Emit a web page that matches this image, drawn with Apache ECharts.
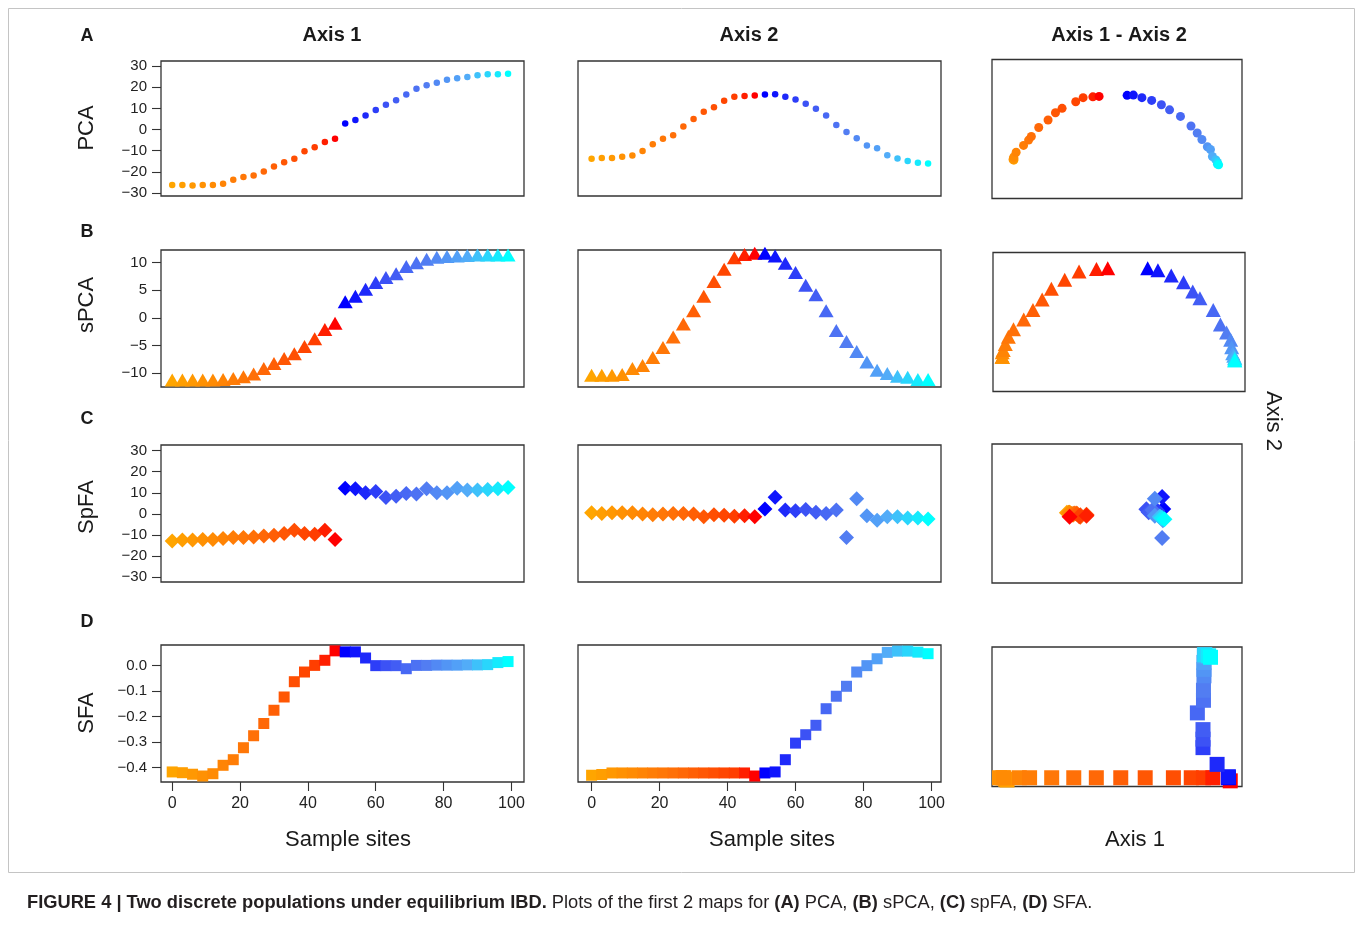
<!DOCTYPE html>
<html>
<head>
<meta charset="utf-8">
<title>Figure 4</title>
<script src="https://cdn.jsdelivr.net/npm/echarts@6.0.0/dist/echarts.min.js"></script>
<style>
html, body { margin: 0; padding: 0; background: #fff; }
#main { width: 1361px; height: 930px; }
</style>
</head>
<body>
<div id="main"></div>
<script>
// sample sites (34 demes, two populations of 17)
var sites = [0, 3, 6, 9, 12, 15, 18, 21, 24, 27, 30, 33, 36, 39, 42, 45, 48,
             51, 54, 57, 60, 63, 66, 69, 72, 75, 78, 81, 84, 87, 90, 93, 96, 99];

// PCA
var pcaAxis1 = [-26.2, -26.2, -26.4, -26.2, -26.2, -25.6, -23.7, -22.4, -21.7, -19.8, -17.4, -15.5, -13.8, -10.3, -8.4, -5.9, -4.3,
                2.9, 4.5, 6.7, 9.2, 11.7, 13.8, 16.6, 19.3, 20.9, 22.1, 23.5, 24.3, 24.8, 25.7, 26.1, 26.1, 26.4];
var pcaAxis2 = [-13.8, -13.5, -13.5, -12.9, -12.3, -10.1, -6.9, -4.4, -2.7, 1.5, 5.0, 8.4, 10.5, 13.6, 15.5, 15.9, 16.1,
                16.6, 16.7, 15.5, 14.2, 12.2, 9.8, 6.7, 2.2, -1.1, -4.1, -7.5, -8.8, -12.1, -13.7, -14.9, -15.7, -16.0];
// sPCA
var spcaAxis1 = [-11.3, -11.3, -11.3, -11.3, -11.3, -11.2, -11.0, -10.7, -10.2, -9.2, -8.3, -7.4, -6.5, -5.2, -3.8, -2.1, -1.0,
                 2.9, 3.9, 5.2, 6.4, 7.3, 8.0, 9.3, 10.0, 10.6, 11.0, 11.1, 11.2, 11.3, 11.4, 11.4, 11.4, 11.4];
var spcaAxis2 = [-10.4, -10.4, -10.4, -10.3, -9.2, -8.65, -7.2, -5.4, -3.5, -1.1, 1.3, 3.9, 6.6, 8.8, 10.9, 11.5, 11.7,
                 11.7, 11.2, 9.9, 8.2, 5.9, 4.2, 1.3, -2.3, -4.3, -6.1, -8.0, -9.5, -10.1, -10.6, -10.8, -11.2, -11.2];
// SpFA
var spfaAxis1 = [-12.9, -12.5, -12.5, -12.2, -12.2, -11.7, -11.3, -11.3, -11.0, -10.5, -10.2, -9.4, -7.8, -9.4, -9.7, -7.8, -12.2,
                 12.2, 11.9, 10.0, 10.6, 7.8, 8.4, 9.7, 9.4, 11.9, 10.0, 10.0, 12.1, 11.3, 11.3, 11.6, 11.9, 12.5];
var spfaAxis2 = [0.5, 0.2, 0.5, 0.5, 0.5, -0.1, -0.4, -0.1, 0.2, 0.2, -0.1, -1.4, -0.4, -0.7, -1.1, -0.9, -1.4,
                 2.3, 7.9, 1.8, 1.5, 2.1, 0.7, 0.2, 1.8, -11.3, 7.1, -0.9, -3.0, -1.4, -1.4, -2.0, -2.0, -2.5];
// SFA
var sfaAxis1 = [-0.417, -0.420, -0.426, -0.433, -0.424, -0.391, -0.369, -0.322, -0.275, -0.227, -0.175, -0.123, -0.063, -0.025, 0.001, 0.021, 0.058,
                0.054, 0.054, 0.030, 0.000, 0.000, 0.000, -0.012, 0.001, 0.001, 0.002, 0.002, 0.002, 0.003, 0.003, 0.004, 0.012, 0.016];
var sfaAxis2 = [-0.430, -0.427, -0.421, -0.421, -0.421, -0.421, -0.421, -0.421, -0.421, -0.421, -0.421, -0.421, -0.421, -0.421, -0.421, -0.421, -0.433,
                -0.421, -0.417, -0.369, -0.304, -0.271, -0.234, -0.169, -0.120, -0.081, -0.025, 0.000, 0.027, 0.052, 0.057, 0.057, 0.053, 0.047];

// tick labels
var xTicks = [0, 20, 40, 60, 80, 100];
var pcaTicks = [-30, -20, -10, 0, 10, 20, 30];
var spcaTicks = [-10, -5, 0, 5, 10];
var spfaTicks = [-30, -20, -10, 0, 10, 20, 30];
var sfaTicks = [-0.4, -0.3, -0.2, -0.1, 0.0];

var FONT = '"Liberation Sans", Arial, Helvetica, sans-serif';
var chart = echarts.init(document.getElementById('main'));

// colour by site: orange -> red (pop 1), blue -> cyan (pop 2)
var warmStops = [[0, [255, 165, 0]], [0.5, [255, 112, 8]], [0.875, [255, 62, 0]], [1, [255, 0, 0]]];
var coldStops = [[0, [0, 0, 255]], [0.25, [60, 82, 245]], [0.5, [82, 125, 242]], [0.75, [82, 172, 248]], [1, [0, 255, 255]]];
function ramp(stops, t) {
    for (var i = 1; i < stops.length; i++) {
        if (t <= stops[i][0]) {
            var a = stops[i - 1], b = stops[i];
            var f = (t - a[0]) / (b[0] - a[0]);
            var c = a[1].map(function (v, j) { return Math.round(v + (b[1][j] - v) * f); });
            return 'rgb(' + c.join(',') + ')';
        }
    }
    return 'rgb(' + stops[stops.length - 1][1].join(',') + ')';
}
var half = 17;
function siteColor(idx) {
    if (idx < half) return ramp(warmStops, idx / (half - 1));
    return ramp(coldStops, (idx - half) / (sites.length - half - 1));
}

function minusFmt(v) { return String(v).replace('-', '\u2212'); }
function sfaFmt(v) { return v.toFixed(1).replace('-', '\u2212'); }

var grids = [], xAxes = [], yAxes = [], series = [];

function tickAxis(ticks, fmt, margin, size) {
    return {
        show: true,
        axisLine: {show: false, onZero: false},
        splitLine: {show: false},
        axisTick: {show: true, inside: false, length: 9, customValues: ticks, lineStyle: {color: '#333', width: 1.1}},
        axisLabel: {show: true, customValues: ticks, formatter: fmt, margin: margin,
                    color: '#222', fontSize: size, fontFamily: FONT}
    };
}

function addPanel(box, xr, yr, data, symbol, size, xt, yt) {
    var k = grids.length;
    grids.push({left: box[0], top: box[1], width: box[2], height: box[3], show: true,
                borderColor: '#333', borderWidth: 1.3, backgroundColor: 'transparent'});
    var xa = xt ? tickAxis(xt, minusFmt, 14, 16) : {show: false, axisLine: {onZero: false}};
    xa.gridIndex = k; xa.type = 'value'; xa.min = xr[0]; xa.max = xr[1];
    var ya = yt ? tickAxis(yt.ticks, yt.fmt, 14, 15) : {show: false, axisLine: {onZero: false}};
    ya.gridIndex = k; ya.type = 'value'; ya.min = yr[0]; ya.max = yr[1];
    xAxes.push(xa);
    yAxes.push(ya);
    series.push({
        type: 'scatter', xAxisIndex: k, yAxisIndex: k, data: data,
        symbol: symbol, symbolSize: size, clip: true,
        itemStyle: {opacity: 1, color: function (p) { return siteColor(p.dataIndex); }},
        emphasis: {disabled: true}
    });
}

function bySite(vals) { return sites.map(function (s, i) { return [s, vals[i]]; }); }
function pairs(a, b) { return a.map(function (v, i) { return [v, b[i]]; }); }

var col1 = {left: 161, width: 363, x: [-3.3, 103.7]};
var col2 = {left: 578, width: 363, x: [-4.0, 102.8]};

var rows = [
    {top: 61, h: 135, a1: pcaAxis1, a2: pcaAxis2, sym: 'circle', s12: 6.5, s3: 9,
     yr: [-31.4, 32.4], ticks: pcaTicks, fmt: minusFmt,
     box3: [992, 59.5, 250, 139], r3x: [-31.8, 32.4], r3y: [-31.8, 33.4]},
    {top: 250, h: 137, a1: spcaAxis1, a2: spcaAxis2, sym: 'triangle', s12: [15, 13], s3: [15, 14],
     yr: [-12.55, 12.3], ticks: spcaTicks, fmt: minusFmt,
     box3: [993, 252.5, 252, 139], r3x: [-12.2, 12.4], r3y: [-19, 15.6]},
    {top: 445, h: 137, a1: spfaAxis1, a2: spfaAxis2, sym: 'diamond', s12: 15, s3: 16,
     yr: [-32.4, 32.7], ticks: spfaTicks, fmt: minusFmt,
     box3: [992, 444, 250, 139], r3x: [-32.4, 32.7], r3y: [-32.4, 32.7]},
    {top: 645, h: 137, a1: sfaAxis1, a2: sfaAxis2, sym: 'rect', s12: 11, s3: 15,
     yr: [-0.4565, 0.081], ticks: sfaTicks, fmt: sfaFmt,
     box3: [992, 647, 250, 139.5], r3x: [-0.449, 0.083], r3y: [-0.455, 0.087]}
];

rows.forEach(function (r, i) {
    var last = i === rows.length - 1;
    addPanel([col1.left, r.top, col1.width, r.h], col1.x, r.yr, bySite(r.a1), r.sym, r.s12,
             last ? xTicks : null, {ticks: r.ticks, fmt: r.fmt});
    addPanel([col2.left, r.top, col2.width, r.h], col2.x, r.yr, bySite(r.a2), r.sym, r.s12,
             last ? xTicks : null, null);
    addPanel(r.box3, r.r3x, r.r3y, pairs(r.a1, r.a2), r.sym, r.s3, null, null);
});

function txt(x, y, s, size, bold, extra) {
    var st = {text: s, x: 0, y: 0, fill: '#1a1a1a', fontSize: size, fontFamily: FONT,
              fontWeight: bold ? 'bold' : 'normal', align: 'center', verticalAlign: 'middle'};
    var el = {type: 'text', x: x, y: y, style: st, silent: true};
    if (extra) for (var k in extra) el[k] = extra[k];
    return el;
}

var graphics = [
    {type: 'rect', shape: {x: 8.5, y: 8.5, width: 1346, height: 864}, style: {fill: null, stroke: '#c4c4c4', lineWidth: 1}, silent: true},
    txt(87, 36, 'A', 18, true), txt(87, 232, 'B', 18, true), txt(87, 419, 'C', 18, true), txt(87, 622, 'D', 18, true),
    txt(332, 35, 'Axis 1', 20, true), txt(749, 35, 'Axis 2', 20, true), txt(1119, 35, 'Axis 1 - Axis 2', 20, true),
    txt(87, 128, 'PCA', 22, false, {rotation: Math.PI / 2}),
    txt(87, 305, 'sPCA', 22, false, {rotation: Math.PI / 2}),
    txt(87, 507, 'SpFA', 22, false, {rotation: Math.PI / 2}),
    txt(87, 713, 'SFA', 22, false, {rotation: Math.PI / 2}),
    txt(348, 840, 'Sample sites', 22, false), txt(772, 840, 'Sample sites', 22, false),
    txt(1135, 840, 'Axis 1', 22, false),
    txt(1273, 421, 'Axis 2', 22, false, {rotation: -Math.PI / 2}),
    {type: 'text', x: 27, y: 903, silent: true, style: {
        text: '{b|FIGURE 4 | Two discrete populations under equilibrium IBD.}{n| Plots of the first 2 maps for }{b|(A)}{n| PCA, }{b|(B)}{n| sPCA, }{b|(C)}{n| spFA, }{b|(D)}{n| SFA.}',
        verticalAlign: 'middle', align: 'left',
        rich: {
            b: {fontSize: 18.3, fontWeight: 'bold', fontFamily: FONT, fill: '#231f20'},
            n: {fontSize: 18.3, fontWeight: 'normal', fontFamily: FONT, fill: '#231f20'}
        }
    }}
];

chart.setOption({
    animation: false,
    backgroundColor: '#fff',
    grid: grids,
    xAxis: xAxes,
    yAxis: yAxes,
    series: series,
    graphic: graphics
});
</script>
</body>
</html>
